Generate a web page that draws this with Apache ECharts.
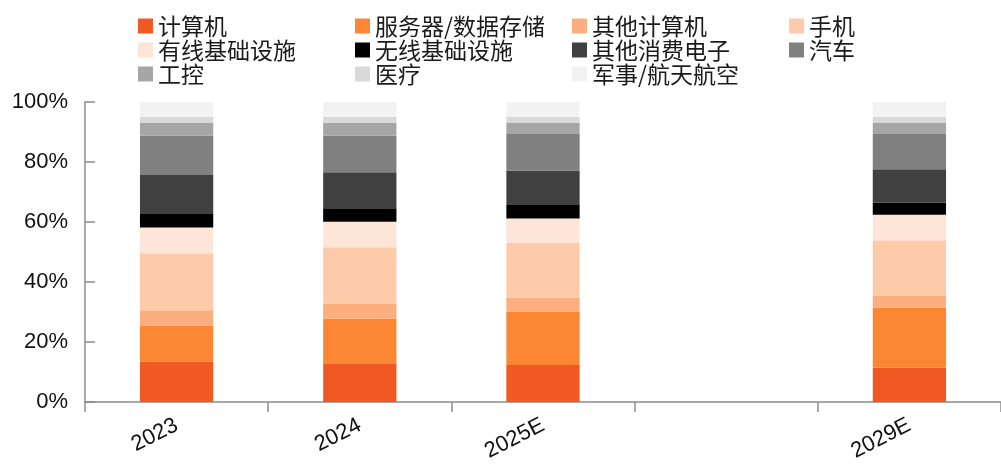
<!DOCTYPE html>
<html>
<head>
<meta charset="utf-8">
<script src="https://cdn.jsdelivr.net/npm/echarts@6/dist/echarts.min.js"></script>
<style>
html,body{margin:0;padding:0;background:#fff;}
#c{width:1001px;height:464px;}
</style>
</head>
<body>
<div id="c"></div>
<script>
var categories = ['2023', '2024', '2025E', '', '2029E'];
var seriesNames = ['计算机', '服务器/数据存储', '其他计算机', '手机', '有线基础设施', '无线基础设施', '其他消费电子', '汽车', '工控', '医疗', '军事/航天航空'];
var computer   = [13.4, 12.9, 12.3, null, 11.4];
var server     = [12.0, 14.9, 17.8, null, 20.0];
var otherComp  = [5.2, 5.0, 4.7, null, 4.0];
var phone      = [19.0, 18.8, 18.2, null, 18.5];
var wired      = [8.6, 8.5, 8.2, null, 8.5];
var wireless   = [4.5, 4.2, 4.5, null, 4.0];
var otherCons  = [13.0, 12.3, 11.5, null, 11.2];
var auto       = [13.1, 12.2, 12.1, null, 11.7];
var industrial = [4.2, 4.2, 3.9, null, 3.9];
var medical    = [2.1, 2.1, 1.9, null, 1.9];
var military   = [4.9, 4.9, 4.9, null, 4.9];
var yTicks = [0, 20, 40, 60, 80, 100];

var values = [computer, server, otherComp, phone, wired, wireless, otherCons, auto, industrial, medical, military];
var colors = ['#F05A22', '#FB8634', '#FDAE7E', '#FDCBAA', '#FDE5D8', '#000000', '#404040', '#808080', '#A6A6A6', '#D9D9D9', '#F2F2F2'];

var series = seriesNames.map(function (n, i) {
  return {
    name: n, type: 'bar', stack: 'total', barWidth: '40%',
    itemStyle: { color: colors[i] },
    data: values[i]
  };
});

function legendRow(items, top) {
  return {
    data: items, top: top, left: 133, width: 1000, orient: 'horizontal',
    itemWidth: 15, itemHeight: 15, itemGap: 0, icon: 'rect',
    textStyle: { fontFamily: 'Noto Sans CJK SC', fontSize: 23, color: '#1a1a1a', width: 197, lineHeight: 24 },
    selectedMode: false
  };
}

var chart = echarts.init(document.getElementById('c'), null, { renderer: 'canvas' });
chart.setOption({
  animation: false,
  backgroundColor: '#fff',
  color: colors,
  legend: [
    legendRow(seriesNames.slice(0, 4), 9),
    legendRow(seriesNames.slice(4, 8), 33),
    legendRow(seriesNames.slice(8), 57)
  ],
  grid: { left: 85, right: -12, top: 102, bottom: 62, containLabel: false },
  xAxis: {
    type: 'category', data: categories,
    axisLine: { lineStyle: { color: '#8c8c8c', width: 1.5 } },
    axisTick: { show: true, length: 10, inside: false, lineStyle: { color: '#8c8c8c', width: 1.5 } },
    axisLabel: { rotate: 27, margin: 22, fontFamily: 'Liberation Sans', fontSize: 22, color: '#111' }
  },
  yAxis: {
    type: 'value', min: yTicks[0], max: yTicks[yTicks.length - 1], interval: 20,
    splitLine: { show: false },
    axisLine: { show: true, lineStyle: { color: '#8c8c8c', width: 1.5 } },
    axisTick: { show: true, inside: true, length: 10, lineStyle: { color: '#8c8c8c', width: 1.5 } },
    axisLabel: { formatter: '{value}%', margin: 17, fontFamily: 'Liberation Sans', fontSize: 22, color: '#111' }
  },
  series: series
});
</script>
</body>
</html>
